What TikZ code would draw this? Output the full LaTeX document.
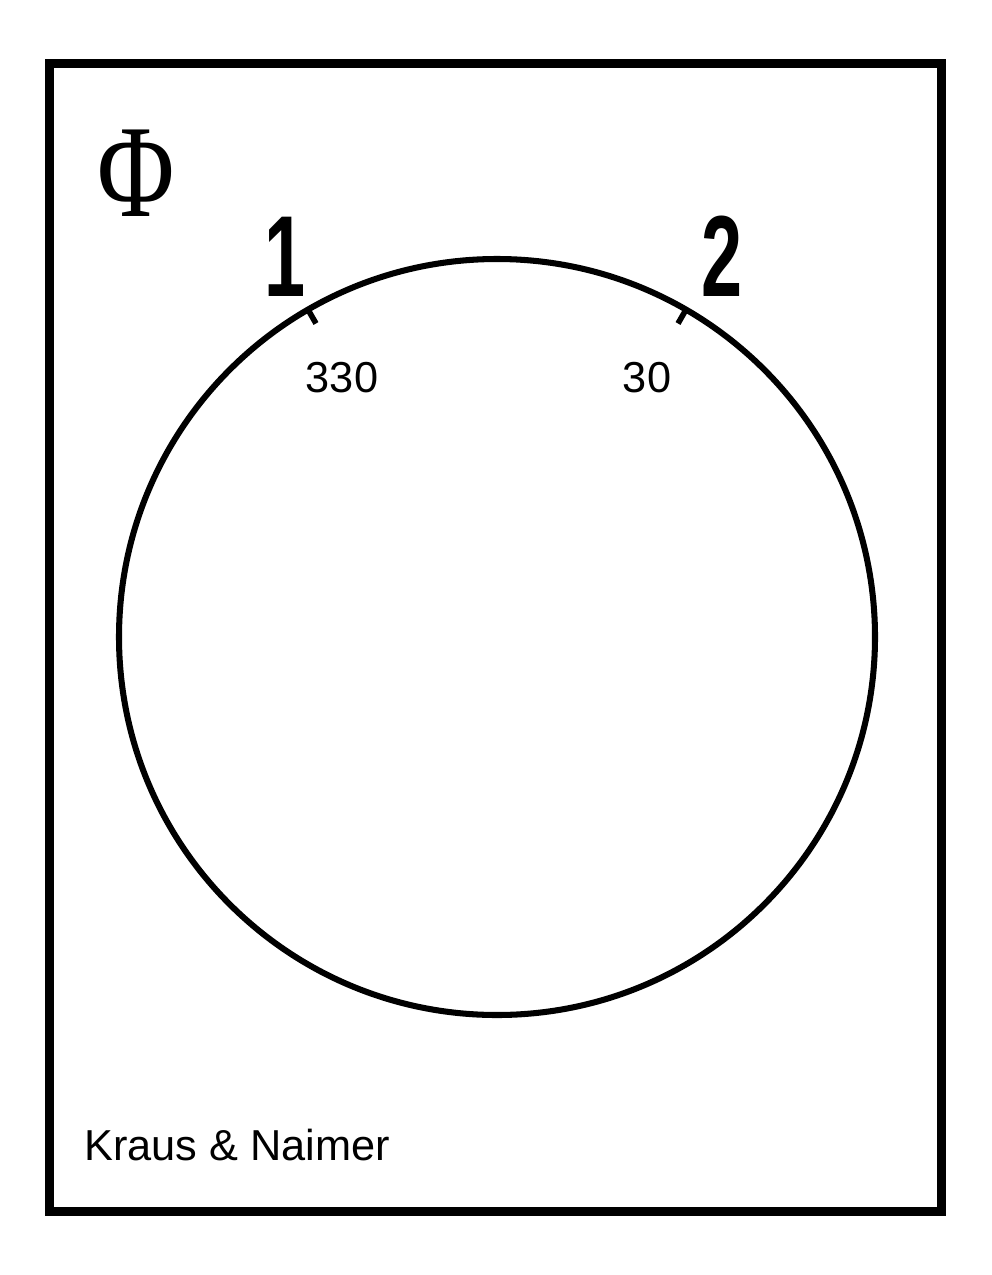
\documentclass[tikz,border=0pt]{standalone}
\usepackage{fontspec}
\setmainfont{Liberation Sans}
\usetikzlibrary{calc}
\newfontfamily\serifphi{Liberation Serif}

\begin{document}
\begin{tikzpicture}[x=0.025cm, y=-0.025cm,
                    frameline/.style={line width=6.4pt, black},
                    dialline/.style={line width=4.3pt, black},
                    ticklabel/.style={inner sep=0pt, font=\fontsize{30.8}{36}\selectfont},
                    posnum/.style={inner sep=0pt, xscale=0.64, font=\bfseries\fontsize{82}{90}\selectfont}]

\useasboundingbox (0,0) rectangle (992,1275);

%frame
\draw [frameline] (49.5,63.5) rectangle (941,1211);

%dial
\coordinate (c) at (497,637);
\draw [dialline] (c) circle [radius=378];

%ticks
\draw [line width=4pt] ($(c)+(-120:378)$) -- ($(c)+(-120:362)$);
\draw [line width=4pt] ($(c)+(-60:378)$) -- ($(c)+(-60:362)$);

%texts
\node [inner sep=0pt, xscale=0.8, font=\serifphi\fontsize{94}{100}\selectfont] (phi) at (136,173) {Φ};
\node [posnum] (one) at (285,257) {1};
\node [posnum] (two) at (722,256) {2};
\node [ticklabel] (a330) at (342,378) {330};
\node [ticklabel] (a30) at (647,378) {30};
\node [ticklabel, anchor=west] (maker) at (84,1145) {Kraus \& Naimer};

\end{tikzpicture}
\end{document}
